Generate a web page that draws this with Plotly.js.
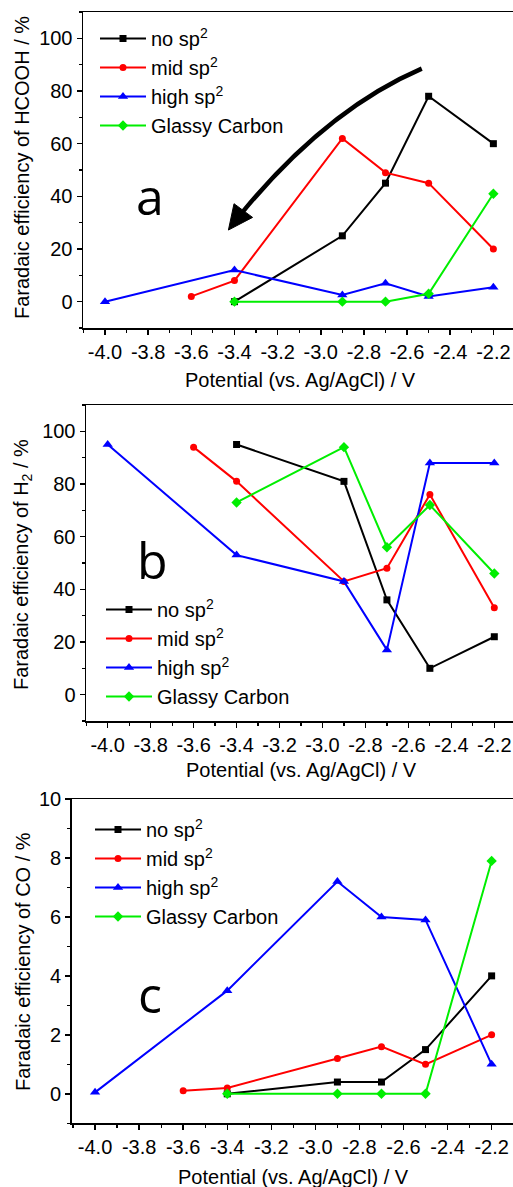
<!DOCTYPE html>
<html>
<head>
<meta charset="utf-8">
<script src="https://cdn.plot.ly/plotly-3.0.1.min.js"></script>
<style>
html,body{margin:0;padding:0;overflow:hidden;background:#fff;}
#chart{width:513px;height:1187px;}
</style>
</head>
<body>
<div id="chart"></div>
<script>
// ---- data (potential in V vs Ag/AgCl, faradaic efficiency in %) ----
const xNoSp2   = [-3.4, -2.9, -2.7, -2.5, -2.2];
const xMidSp2  = [-3.6, -3.4, -2.9, -2.7, -2.5, -2.2];
const xHighSp2 = [-4.0, -3.4, -2.9, -2.7, -2.5, -2.2];
const xGlassy  = [-3.4, -2.9, -2.7, -2.5, -2.2];

const hcoohNo   = [0, 25, 45, 78, 60];
const hcoohMid  = [2, 8, 62, 49, 45, 20];
const hcoohHigh = [0, 12, 2.5, 7, 2, 5.5];
const hcoohGC   = [0, 0, 0, 3, 41];

const h2No   = [95, 81, 36, 10, 22];
const h2Mid  = [94, 81, 43, 48, 76, 33];
const h2High = [95, 53, 43, 17, 88, 88];
const h2GC   = [73, 94, 56, 72, 46];

const coNo   = [0, 0.4, 0.4, 1.5, 4];
const coMid  = [0.1, 0.2, 1.2, 1.6, 1.0, 2.0];
const coHigh = [0.05, 3.5, 7.2, 6.0, 5.9, 1.0];
const coGC   = [0, 0, 0, 0, 7.9];

const seriesNames = ['no sp<sup>2</sup>', 'mid sp<sup>2</sup>', 'high sp<sup>2</sup>', 'Glassy Carbon'];
const xTickVals = [-4.0, -3.8, -3.6, -3.4, -3.2, -3.0, -2.8, -2.6, -2.4, -2.2];
const xTickText = ['-4.0', '-3.8', '-3.6', '-3.4', '-3.2', '-3.0', '-2.8', '-2.6', '-2.4', '-2.2'];
const xMinorVals = [-4.1, -3.9, -3.7, -3.5, -3.3, -3.1, -2.9, -2.7, -2.5, -2.3, -2.1];
const xTitle = 'Potential (vs. Ag/AgCl) / V';
const yTitles = ['Faradaic efficiency of HCOOH / %', 'Faradaic efficiency of H<sub>2</sub> / %', 'Faradaic efficiency of CO / %'];
const panelLetters = ['a', 'b', 'c'];

// ---- styling ----
const colors = ['#000000', '#ff0000', '#0000ff', '#00ee00'];
const symbols = ['square', 'circle', 'triangle-up', 'diamond'];
const msizes = [7, 7, 9, 8];
const FONT = 'Liberation Sans, Arial, sans-serif';
const FS = 20;
const W = 513, H = 1187;

const xs = [xNoSp2, xMidSp2, xHighSp2, xGlassy];
const panels = [
  [hcoohNo, hcoohMid, hcoohHigh, hcoohGC],
  [h2No, h2Mid, h2High, h2GC],
  [coNo, coMid, coHigh, coGC]
];

const traces = [];
panels.forEach((ys, p) => {
  const ax = p === 0 ? '' : String(p + 1);
  ys.forEach((y, i) => {
    traces.push({
      type: 'scatter', mode: 'lines+markers',
      x: xs[i], y: y, name: seriesNames[i],
      xaxis: 'x' + ax, yaxis: 'y' + ax,
      legend: 'legend' + ax,
      line: {color: colors[i], width: 2},
      marker: {color: colors[i], symbol: symbols[i], size: msizes[i]},
      cliponaxis: false
    });
  });
});

// panel pixel geometry
const geo = [
  {left: 83,   top: 12,  bottom: 328,    xr: [-4.102, -2.109], yr: [-10, 110], dy: 20, mdy: 10},
  {left: 86,   top: 405, bottom: 721,    xr: [-4.101, -2.113], yr: [-10, 110], dy: 20, mdy: 10},
  {left: 71.7, top: 799, bottom: 1123.3, xr: [-4.106, -2.103], yr: [-1, 10],   dy: 2,  mdy: 1}
];

const layout = {
  width: W, height: H,
  margin: {l: 0, r: 0, t: 0, b: 0},
  paper_bgcolor: '#fff', plot_bgcolor: '#fff',
  font: {family: FONT, size: FS, color: '#000'},
  showlegend: true,
  annotations: [],
  shapes: []
};

geo.forEach((g, p) => {
  const ax = p === 0 ? '' : String(p + 1);
  layout['xaxis' + ax] = {
    domain: [g.left / W, 1], range: g.xr, anchor: 'y' + ax,
    showline: true, mirror: true, linecolor: '#000', linewidth: 1.5,
    ticks: 'outside', ticklen: 5, tickwidth: 1.5, tickcolor: '#000',
    tickmode: 'array', tickvals: xTickVals, ticktext: xTickText,
    minor: {tickmode: 'array', tickvals: xMinorVals, ticks: 'outside', ticklen: 3, tickwidth: 1.2, tickcolor: '#000', showgrid: false},
    showgrid: false, zeroline: false,
    tickfont: {family: FONT, size: FS, color: '#000'}
  };
  layout['yaxis' + ax] = {
    domain: [1 - g.bottom / H, 1 - g.top / H], range: g.yr, anchor: 'x' + ax,
    showline: true, mirror: false, linecolor: '#000', linewidth: 1.5,
    ticks: 'outside', ticklen: 5, tickwidth: 1.5, tickcolor: '#000',
    tickmode: 'linear', tick0: 0, dtick: g.dy,
    minor: {tickmode: 'linear', tick0: 0, dtick: g.mdy, ticks: 'outside', ticklen: 3, tickwidth: 1.2, tickcolor: '#000', showgrid: false},
    showgrid: false, zeroline: false,
    tickfont: {family: FONT, size: FS, color: '#000'}
  };
});

// legends
const legPos = [
  {x: 95 / W, y: 1 - 19 / H},
  {x: 101 / W, y: 1 - 590 / H},
  {x: 90 / W, y: 1 - 810 / H}
];
legPos.forEach((lp, p) => {
  const key = p === 0 ? 'legend' : 'legend' + (p + 1);
  layout[key] = {
    x: lp.x, y: lp.y, xanchor: 'left', yanchor: 'top',
    bgcolor: 'rgba(0,0,0,0)', borderwidth: 0,
    font: {family: FONT, size: FS, color: '#000'},
    itemwidth: 46, tracegroupgap: 0
  };
});

// axis titles as annotations
const xTitleY = [380, 770, 1177];
const xTitleX = [300, 301, 293];
const yTitleY = [168, 565, 962];
const yTitleX = [22, 22, 23];
const letterPos = [[150, 196], [152, 560], [150, 994]];
for (let p = 0; p < 3; p++) {
  layout.annotations.push({
    text: xTitle, xref: 'paper', yref: 'paper',
    x: xTitleX[p] / W, y: 1 - xTitleY[p] / H, xanchor: 'center', yanchor: 'middle',
    showarrow: false, font: {family: FONT, size: FS, color: '#000'}
  });
  layout.annotations.push({
    text: yTitles[p], xref: 'paper', yref: 'paper', textangle: -90,
    x: yTitleX[p] / W, y: 1 - yTitleY[p] / H, xanchor: 'center', yanchor: 'middle',
    showarrow: false, font: {family: FONT, size: FS, color: '#000'}
  });
  layout.annotations.push({
    text: panelLetters[p], xref: 'paper', yref: 'paper',
    x: letterPos[p][0] / W, y: 1 - letterPos[p][1] / H, xanchor: 'center', yanchor: 'middle',
    showarrow: false, font: {family: 'Open Sans, sans-serif', size: 50, color: '#000'}
  });
}

// curved arrow in panel a (decoration)
layout.shapes.push({
  type: 'path', xref: 'x', yref: 'y', layer: 'above',
  path: 'M-2.532,88.5 Q-2.968,73.1 -3.360,34.3',
  line: {color: '#000', width: 4.5}, fillcolor: 'rgba(0,0,0,0)'
});
layout.shapes.push({
  type: 'path', xref: 'x', yref: 'y', layer: 'above',
  path: 'M-3.428,27.2 L-3.316,32.0 L-3.402,37.2 Z',
  line: {color: '#000', width: 1}, fillcolor: '#000'
});

Plotly.newPlot('chart', traces, layout, {displayModeBar: false, staticPlot: true});
</script>
</body>
</html>
